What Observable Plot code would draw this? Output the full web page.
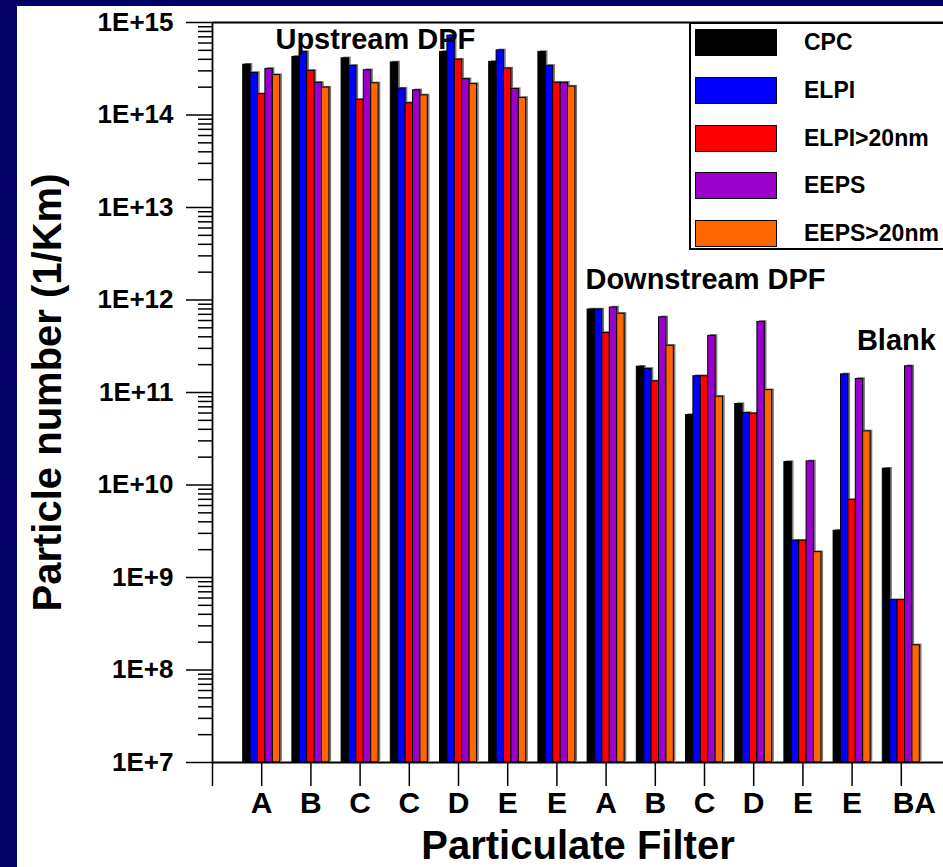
<!DOCTYPE html>
<html>
<head>
<meta charset="utf-8">
<script src="https://cdn.jsdelivr.net/npm/d3@7"></script>
<script src="https://cdn.jsdelivr.net/npm/@observablehq/plot@0.6"></script>
<style>
  html, body { margin: 0; padding: 0; }
  body { width: 943px; height: 867px; background: #000066; overflow: hidden; position: relative;
         font-family: "Liberation Sans", Arial, sans-serif; font-weight: bold; }
  #panel { position: absolute; left: 17px; top: 6px; width: 926px; height: 861px; background: white; overflow: hidden; }
  #legend { position: absolute; left: 672px; top: 16px; width: 300px; height: 224px; border: 2px solid black; background: white; box-sizing: content-box; }
  .row { position: absolute; left: 4px; height: 27px; display: flex; align-items: center; }
  .sw { width: 80px; height: 25px; border: 1px solid black; }
  .lab { margin-left: 27px; font-size: 23px; color: black; white-space: nowrap; }
</style>
</head>
<body>
<div id="panel"><div id="legend"></div></div>
<script>
// ---- data ----
const groups = ["A", "B", "C", "C", "D", "E", "E", "A", "B", "C", "D", "E", "E", "BA"];
const series = ["CPC", "ELPI", "ELPI>20nm", "EEPS", "EEPS>20nm"];
const colors = ["#000000", "#0000FF", "#FF0000", "#9900CC", "#FF6600"];
const cpc    = [3.5e14, 4.25e14, 4.1e14, 3.7e14, 4.8e14, 3.75e14, 4.8e14, 7.9e11, 1.9e11, 5.7e10, 7.5e10, 1.77e10, 3.2e9, 1.5e10];
const elpi   = [2.85e14, 4.8e14, 3.4e14, 1.93e14, 7.2e14, 5.0e14, 3.4e14, 7.9e11, 1.8e11, 1.5e11, 6.0e10, 2.5e9, 1.57e11, 5.7e8];
const elpi20 = [1.68e14, 3.0e14, 1.46e14, 1.34e14, 3.97e14, 3.18e14, 2.23e14, 4.4e11, 1.32e11, 1.5e11, 5.9e10, 2.5e9, 6.9e9, 5.7e8];
const eeps   = [3.15e14, 2.23e14, 3.05e14, 1.85e14, 2.44e14, 1.91e14, 2.23e14, 8.3e11, 6.5e11, 4.1e11, 5.8e11, 1.8e10, 1.4e11, 1.92e11];
const eeps20 = [2.7e14, 1.98e14, 2.2e14, 1.63e14, 2.16e14, 1.53e14, 2.03e14, 7.1e11, 3.2e11, 9.0e10, 1.06e11, 1.88e9, 3.8e10, 1.85e8];
const values = [cpc, elpi, elpi20, eeps, eeps20];
const yTickValues = [1e7, 1e8, 1e9, 1e10, 1e11, 1e12, 1e13, 1e14, 1e15];
const annotations = [
  {text: "Upstream DPF",   pos: 3.31,  value: 5.2e14},
  {text: "Downstream DPF", pos: 10.02, value: 1.3e12},
  {text: "Blank",          pos: 13.9,  value: 2.85e11}
];
const xTitle = "Particulate Filter";
const yTitle = "Particle number (1/Km)";

// ---- build table ----
const groupWidth = 0.752;               // fraction of a category step occupied by a group
const barWidth = groupWidth / series.length;
const rows = groups.flatMap((g, gi) => series.map((s, si) => ({gi, si, series: s, value: values[si][gi]})));
const minorTicks = d3.range(7, 15).flatMap(e => d3.range(2, 10).map(m => m * 10 ** e));
const yMin = yTickValues[0], yMax = yTickValues[yTickValues.length - 1];

const chart = Plot.plot({
  width: 926, height: 861,
  marginLeft: 195, marginRight: 0, marginTop: 16, marginBottom: 105,
  style: {fontFamily: "'Liberation Sans', Arial, sans-serif", fontWeight: "bold", color: "black", background: "white"},
  x: {domain: [0, groups.length + 1], range: [195, 933], axis: null},
  y: {type: "log", domain: [yMin, yMax], axis: null},
  color: {domain: series, range: colors},
  marks: [
    Plot.rect(rows, {
      x1: d => d.gi + 1 - groupWidth / 2 + d.si * barWidth + 0.02,
      x2: d => d.gi + 1 - groupWidth / 2 + (d.si + 1) * barWidth + 0.02,
      y1: () => yMin, y2: "value",
      fill: "#777", dx: 1.2, dy: -1.2
    }),
    Plot.rect(rows, {
      x1: d => d.gi + 1 - groupWidth / 2 + d.si * barWidth,
      x2: d => d.gi + 1 - groupWidth / 2 + (d.si + 1) * barWidth,
      y1: () => yMin, y2: "value",
      fill: "series", stroke: "black", strokeWidth: 1
    }),
    Plot.axisY({ticks: minorTicks, tickSize: 14, tickFormat: () => "", label: null, strokeWidth: 1.5}),
    Plot.axisY({ticks: yTickValues, tickSize: 26, tickPadding: 13, label: null, strokeWidth: 1.5,
      tickFormat: d => "1E+" + Math.round(Math.log10(d)), fontSize: 26, fontWeight: "bold"}),
    Plot.axisX({ticks: d3.range(0, groups.length + 1), tickSize: 24, tickPadding: 5, label: null, strokeWidth: 1.5,
      tickFormat: i => (i >= 1 && i < groups.length) ? groups[i - 1] : "", fontSize: 30, fontWeight: "bold"}),
    Plot.text([groups[groups.length - 1]], {x: () => groups.length, frameAnchor: "bottom", lineAnchor: "top",
      dy: 29, dx: 13, text: d => d, fontSize: 30, fontWeight: "bold"}),
    Plot.ruleX([0], {y1: () => yMin, y2: () => yMax, strokeWidth: 1.8}),
    Plot.ruleY([yMin, yMax], {x1: () => 0, x2: () => groups.length + 1, strokeWidth: 1.8}),
    Plot.text(annotations, {x: "pos", y: "value", text: "text", lineAnchor: "bottom", fontSize: 29, fontWeight: "bold"}),
    Plot.text([yTitle], {frameAnchor: "left", textAnchor: "middle", rotate: -90, dx: -164, text: d => d, fontSize: 40, fontWeight: "bold"}),
    Plot.text([xTitle], {frameAnchor: "bottom", textAnchor: "middle", lineAnchor: "bottom", dy: 96, text: d => d, fontSize: 40, fontWeight: "bold"})
  ]
});
document.getElementById("panel").prepend(chart);

// ---- legend ----
const legend = document.getElementById("legend");
series.forEach((s, i) => {
  const row = document.createElement("div");
  row.className = "row";
  row.style.top = (5 + i * 47.8) + "px";
  const sw = document.createElement("div");
  sw.className = "sw";
  sw.style.background = colors[i];
  const lab = document.createElement("span");
  lab.className = "lab";
  lab.textContent = s;
  row.append(sw, lab);
  legend.append(row);
});
</script>
</body>
</html>
